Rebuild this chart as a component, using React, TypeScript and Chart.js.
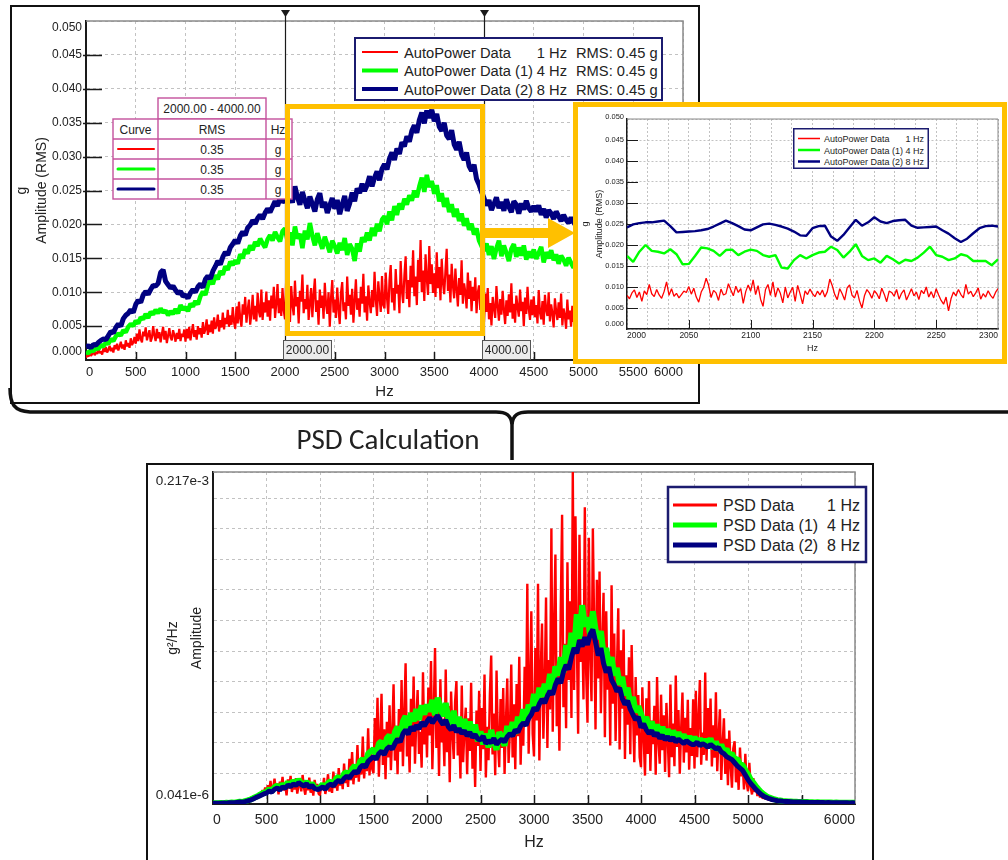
import React, { useEffect, useRef } from 'react';
import { Chart, registerables } from 'chart.js';

Chart.register(...registerables);

const FONT = '"Liberation Sans", Arial, Helvetica, sans-serif';
const RED = '#ff0000';
const GREEN = '#00ff00';
const NAVY = '#000080';
const ORANGE = '#ffc000';
const PINK = '#c4519c';
const LEGEND_BORDER = '#1b1b6f';
const GRID = '#c2c2c2';
const TEXT = '#222222';

// ---------------- AutoPower spectra (milli-g RMS) ----------------
// 1 Hz resolution curve, sampled every 12.5 Hz from 0 Hz
const AP_RED_STEP_HZ = 12.5;
const apRed = [
  0.3, 0.8, 0.5, 1.1, 0.6, 0.9, 1.4, 0.7, 1.2, 0.9, 1.6, 1.0, 1.3, 0.8, 1.7, 1.2, 1.9, 1.1, 1.5, 2.1,
  1.3, 1.8, 1.1, 2.2, 1.6, 2.4, 1.4, 2.0, 2.7, 1.7, 2.3, 1.5, 2.9, 2.0, 2.5, 1.8, 3.2, 2.2, 2.6, 3.4,
  2.4, 3.9, 2.8, 4.5, 3.1, 2.6, 4.2, 3.5, 4.8, 2.9, 3.7, 4.4, 2.7, 3.3, 5.0, 3.6, 2.8, 4.6, 3.2, 4.1,
  2.6, 3.8, 4.9, 3.0, 4.3, 2.5, 3.6, 4.7, 3.3, 2.9, 4.4, 3.7, 2.7, 4.0, 3.1, 4.6, 2.8, 3.9, 3.4, 4.5,
  2.7, 4.6, 3.2, 4.9, 2.9, 4.1, 5.3, 3.4, 4.4, 3.0, 5.0, 3.8, 4.7, 3.3, 5.6, 3.9, 4.5, 6.0, 3.7, 5.2,
  4.1, 5.8, 3.9, 6.3, 4.6, 5.1, 6.7, 4.2, 5.9, 4.8, 7.0, 4.5, 6.2, 5.3, 7.4, 4.9, 6.6, 5.2, 7.8, 5.6,
  4.6, 7.9, 5.4, 8.6, 6.1, 4.9, 8.2, 6.7, 9.3, 5.5, 7.4, 8.9, 5.2, 6.8, 9.6, 6.0, 8.0, 5.7, 9.9, 7.2,
  6.3, 10.4, 5.9, 8.5, 7.0, 10.1, 6.4, 8.8, 5.8, 9.5, 7.6, 10.8, 6.2, 8.3, 11.2, 6.9, 9.1, 6.5, 10.6, 7.3,
  6.0, 12.2, 7.4, 9.8, 5.6, 10.9, 8.1, 6.6, 11.7, 7.9, 9.3, 5.4, 10.2, 8.6, 12.6, 6.9, 9.0, 7.5, 11.1, 5.9,
  8.4, 10.6, 6.3, 9.7, 12.0, 7.1, 8.8, 5.2, 10.4, 7.7, 9.5, 6.1, 11.4, 8.2, 6.8, 10.0, 4.9, 9.2, 11.8, 7.0,
  8.9, 6.2, 10.7, 7.6, 5.3, 9.9, 11.5, 7.2, 8.5, 6.0, 12.3, 8.0, 9.6, 6.7, 10.5, 5.5, 8.7, 11.9, 7.4, 9.1,
  6.4, 10.8, 8.3, 12.7, 7.0, 9.4, 5.8, 11.0, 8.6, 6.9, 10.3, 7.8, 13.0, 8.9, 6.5, 11.6, 9.3, 7.1, 12.4, 8.1,
  7.6, 12.9, 9.2, 6.8, 11.7, 14.0, 8.5, 10.6, 7.3, 13.4, 9.8, 11.1, 6.9, 14.6, 10.2, 8.4, 12.5, 15.3, 9.0, 11.8,
  7.8, 13.9, 10.7, 16.2, 9.4, 12.3, 8.1, 14.8, 11.5, 17.7, 10.0, 13.2, 8.7, 15.6, 12.0, 9.6, 16.8, 11.2, 14.1, 9.9,
  12.8, 9.3, 15.9, 10.6, 13.7, 8.8, 14.9, 11.4, 9.7, 13.1, 16.4, 10.2, 12.6, 8.5, 14.2, 11.0, 9.1, 13.5, 10.4, 7.9,
  12.1, 9.6, 14.7, 8.3, 11.3, 10.0, 7.6, 12.9, 9.0, 11.7, 7.2, 10.8, 8.7, 12.2, 6.9, 9.9, 11.0, 7.4, 10.1, 8.0,
  5.6, 9.8, 7.1, 10.6, 6.0, 8.4, 5.1, 9.3, 7.7, 6.2, 10.9, 8.0, 5.8, 9.0, 6.7, 10.2, 7.4, 5.3, 8.8, 6.5,
  9.7, 7.0, 11.3, 6.1, 8.3, 5.5, 9.5, 7.8, 6.4, 10.4, 7.2, 8.6, 5.0, 9.2, 6.8, 10.8, 7.5, 5.9, 8.9, 6.6,
  9.4, 6.3, 8.1, 5.4, 10.3, 7.0, 6.0, 8.7, 5.2, 9.6, 7.4, 6.5, 10.0, 5.7, 8.2, 6.9, 4.8, 9.1, 7.2, 5.9,
  8.5, 6.2, 9.8, 5.1, 7.6, 6.6, 4.6, 8.9, 6.0, 7.3, 4.9, 8.0, 5.6, 6.8, 4.2, 7.5, 5.3, 3.8, 6.4, 3.5,
  3.3,
];
// 4 Hz and 8 Hz resolution curves, sampled every 25 Hz from 0 Hz
const AP_STEP_HZ = 25;
const apGreen = [
  1.2, 1.0, 1.5, 1.3, 1.9, 1.6, 2.2, 2.0, 2.6, 2.4, 3.1, 2.8, 3.5, 3.9, 3.6, 4.4, 4.1, 4.9, 5.3, 5.0,
  5.8, 5.4, 6.3, 6.0, 6.8, 6.2, 7.1, 6.7, 7.4, 6.9, 7.6, 7.0, 7.3, 6.6, 7.2, 6.8, 7.5, 6.9, 8.1, 7.4,
  7.8, 7.2, 8.3, 7.9, 8.7, 8.2, 9.4, 10.1, 9.6, 11.0, 11.8, 11.2, 12.5, 11.9, 13.1, 12.6, 13.8, 13.3, 14.5, 14.0,
  14.7, 14.2, 15.6, 15.0, 16.3, 15.7, 16.9, 16.2, 17.4, 16.8, 17.9, 17.2, 16.6, 17.8, 18.4, 17.6, 18.9, 18.1, 17.5, 19.0,
  19.4, 17.6, 18.8, 16.9, 19.7, 17.9, 18.6, 16.5, 19.1, 17.8, 20.2, 18.3, 16.9, 18.7, 17.5, 16.4, 18.2, 17.0, 15.9, 17.6,
  16.8, 15.7, 17.3, 16.2, 18.0, 15.5, 17.1, 16.4, 14.6, 17.2, 16.0, 18.1, 17.4, 18.8, 17.6, 19.5, 18.3, 20.1, 19.0, 20.7,
  21.2, 20.0, 21.9, 20.6, 22.7, 21.4, 23.1, 22.2, 23.8, 22.9, 24.3, 23.5, 25.0, 24.0, 25.6, 26.9, 24.8, 27.3, 25.5, 26.4,
  24.5, 25.8, 23.4, 24.6, 22.6, 23.9, 21.8, 23.0, 21.1, 22.3, 20.5, 21.6, 19.8, 20.9, 19.2, 20.1, 18.5, 19.4, 17.6, 16.8,
  16.1, 17.2, 15.5, 16.8, 14.9, 16.5, 17.6, 15.3, 16.9, 15.8, 14.6, 16.4, 17.1, 15.2, 16.6, 15.4, 16.9, 14.8, 16.0, 15.1,
  16.3, 14.9, 15.8, 16.7, 14.4, 15.9, 15.0, 16.2, 14.7, 15.6, 14.2, 15.4, 14.8, 13.9, 15.1, 14.3, 13.6, 14.5, 12.9, 12.0,
  11.8,
];
const apBlue = [
  1.9, 2.1, 1.8, 2.3, 2.2, 2.6, 2.9, 3.1, 3.0, 3.6, 4.2, 4.0, 4.8, 5.3, 5.0, 6.1, 6.6, 6.9, 7.4, 7.0,
  8.2, 8.8, 8.5, 9.6, 10.1, 9.7, 10.4, 11.0, 10.9, 11.3, 12.9, 13.3, 11.6, 11.1, 10.6, 10.9, 10.3, 9.8, 10.1, 9.4,
  9.6, 9.1, 9.9, 10.4, 10.0, 10.8, 11.2, 10.7, 11.9, 12.4, 12.0, 13.1, 13.8, 14.6, 14.1, 15.2, 15.9, 15.5, 16.6, 17.1,
  17.7, 17.2, 18.3, 18.9, 18.4, 19.5, 19.9, 20.6, 20.1, 20.9, 21.4, 20.8, 21.7, 22.3, 21.8, 22.6, 23.4, 22.7, 23.9, 23.3,
  23.6, 25.1, 24.3, 23.2, 25.6, 24.0, 22.9, 24.8, 23.5, 22.4, 24.1, 23.0, 21.9, 23.7, 24.6, 22.5, 23.3, 21.7, 22.8, 23.9,
  22.3, 23.6, 21.5, 22.9, 24.2, 22.0, 23.1, 24.7, 23.4, 25.3, 24.6, 26.0, 24.9, 25.8, 27.1, 25.6, 26.9, 27.8, 26.5, 28.2,
  28.9, 28.1, 29.7, 30.6, 29.5, 31.2, 30.4, 32.1, 31.5, 33.0, 32.2, 33.8, 34.6, 33.5, 35.4, 36.5, 34.9, 36.8, 35.7, 36.9,
  35.2, 36.3, 34.4, 33.8, 35.0, 33.1, 32.6, 33.9, 31.8, 31.0, 32.2, 30.3, 29.5, 30.6, 28.6, 27.9, 28.8, 26.7, 25.9, 24.8,
  23.9, 22.8, 23.6, 22.1, 23.0, 24.0, 22.4, 23.3, 22.0, 23.7, 22.6, 21.8, 23.4, 22.9, 21.6, 23.1, 22.2, 23.5, 22.4, 21.9,
  22.7, 21.9, 22.8, 21.4, 22.3, 21.0, 22.1, 21.6, 20.8, 21.9, 21.2, 20.5, 21.4, 20.7, 20.2, 21.0, 20.3, 19.8, 20.5, 19.6,
  19.9,
];
const apYTicks = [0, 0.005, 0.01, 0.015, 0.02, 0.025, 0.03, 0.035, 0.04, 0.045, 0.05];
const apXRange = [0, 6000];
const apXInnerTicks = [500, 1000, 1500, 2000, 2500, 3000, 3500, 4000, 4500, 5000, 5500];

// Band cursors and the RMS values computed between them
const cursorHz = [2000, 4000];
const bandRms = [0.35, 0.35, 0.35];
const bandUnit = 'g';
const overallRms = [0.45, 0.45, 0.45];

// ---------------- Zoomed view 2000–2300 Hz (milli-g) ----------------
const ZOOM_START_HZ = 2000;
const ZOOM_END_HZ = 2300;
const ZOOM_RED_STEP_HZ = 2;
const ZOOM_LINE_STEP_HZ = 5;
const zoomRed = [
  8.0, 7.2, 8.6, 9.3, 7.5, 8.8, 6.6, 9.1, 8.2, 10.6, 8.4, 7.7, 9.4, 8.1, 7.3, 8.9, 11.2, 8.0, 9.6, 7.8, 8.5, 7.4, 8.2, 9.0, 8.7,
  10.1, 8.3, 9.7, 7.6, 6.4, 8.8, 9.9, 12.1, 10.4, 7.5, 9.2, 8.6, 6.8, 9.5, 8.1, 8.4, 10.8, 9.3, 7.9, 10.2, 8.7, 9.6, 6.1, 8.9, 10.5,
  9.0, 11.7, 8.2, 10.3, 7.1, 5.4, 9.4, 10.6, 8.0, 11.2, 7.6, 9.8, 8.5, 6.2, 10.0, 7.4, 8.8, 9.9, 6.6, 10.4, 8.3, 6.0, 9.1, 8.2, 9.5,
  8.4, 7.7, 9.0, 8.1, 9.3, 7.6, 8.9, 11.9, 10.3, 8.2, 7.0, 9.6, 8.4, 6.9, 9.8, 10.5, 8.0, 7.4, 9.2, 6.7, 5.0, 7.9, 9.4, 8.6, 7.3,
  9.1, 8.4, 7.2, 9.7, 8.3, 6.5, 9.0, 8.7, 7.8, 9.4, 7.1, 8.5, 9.3, 6.9, 8.2, 9.6, 7.9, 8.8, 7.0, 9.2, 8.4, 10.0, 7.6, 8.9, 7.4,
  9.6, 8.1, 6.8, 5.9, 7.6, 4.3, 7.2, 8.8, 7.9, 9.4, 8.2, 7.4, 10.6, 8.3, 9.0, 7.7, 8.6, 9.8, 7.1, 8.4, 7.6, 9.1, 8.0, 7.3, 8.7,
  9.6,
];
const zoomGreen = [
  17.4, 16.0, 18.4, 20.0, 18.6, 18.4, 18.0, 19.0, 17.8, 15.4,
  15.5, 17.4, 19.4, 19.2, 18.6, 17.4, 18.8, 18.9, 17.6, 18.4,
  18.9, 18.6, 17.6, 17.2, 17.6, 14.6, 14.4, 16.4, 17.6, 16.8,
  17.6, 18.2, 18.4, 19.6, 18.8, 17.0, 18.4, 20.2, 17.4, 16.4,
  16.8, 15.8, 17.4, 16.6, 15.6, 16.5, 16.2, 17.0, 18.2, 19.6,
  17.6, 17.2, 16.4, 16.8, 17.8, 17.4, 16.2, 16.2, 16.2, 15.2,
  16.6,
];
const zoomBlue = [
  24.2, 24.9, 25.2, 25.4, 25.4, 25.6, 25.8, 24.5, 23.0, 23.1,
  23.2, 23.3, 23.5, 23.8, 24.4, 25.1, 25.8, 25.2, 24.5, 23.7,
  23.5, 24.2, 24.9, 25.1, 24.8, 24.4, 23.9, 23.2, 22.3, 22.2,
  24.0, 24.5, 24.6, 22.0, 21.0, 22.4, 24.2, 26.0, 24.6, 25.4,
  26.6, 25.6, 25.2, 25.7, 25.9, 26.0, 24.6, 24.1, 24.2, 24.3,
  24.4, 23.5, 22.7, 21.6, 20.7, 21.5, 22.8, 24.0, 24.5, 24.6,
  24.4,
];
const zoomXLabelEvery = 50;
const zoomGridDivisions = 18;
const zoomXInnerTicks = [2050, 2100, 2150, 2200, 2250];

// ---------------- PSD spectra (1e-5 g²/Hz) ----------------
// 1 Hz resolution PSD, sampled every 12.5 Hz from 0 Hz
const PSD_RED_STEP_HZ = 12.5;
const psdRed = [
  0.04, 0.06, 0.05, 0.05, 0.07, 0.06, 0.05, 0.08, 0.06, 0.07, 0.09, 0.07, 0.08, 0.11, 0.09, 0.10, 0.13, 0.10, 0.12, 0.16,
  0.13, 0.18, 0.14, 0.22, 0.17, 0.28, 0.21, 0.36, 0.26, 0.44, 0.33, 0.52, 0.39, 0.63, 0.48, 0.77, 0.55, 0.92, 0.66, 1.08,
  0.62, 1.24, 0.85, 1.52, 0.71, 1.08, 1.66, 0.93, 1.35, 0.64, 1.47, 1.12, 1.78, 0.88, 1.29, 0.57, 1.61, 1.02, 1.84, 0.79,
  1.38, 0.95, 1.70, 0.68, 1.21, 1.55, 0.83, 1.90, 1.06, 0.61, 1.44, 0.90, 1.73, 0.74, 1.26, 0.55, 1.58, 0.97, 1.32, 0.66,
  0.58, 1.36, 0.92, 1.71, 0.66, 1.18, 1.95, 0.81, 1.49, 0.73, 2.12, 1.04, 1.63, 0.87, 2.35, 1.21, 1.82, 0.98, 2.64, 1.37,
  2.01, 1.12, 2.95, 1.55, 3.40, 1.29, 2.48, 1.72, 3.85, 1.46, 2.76, 1.93, 4.42, 1.68, 3.12, 2.15, 4.96, 1.87, 3.58, 2.30,
  2.02, 5.63, 3.15, 6.94, 1.78, 4.21, 7.20, 2.56, 4.88, 1.62, 5.37, 3.04, 6.45, 2.21, 4.56, 7.83, 2.84, 5.12, 1.95, 6.21,
  3.42, 8.10, 2.47, 5.78, 9.20, 3.11, 4.95, 2.06, 6.88, 3.76, 8.34, 2.63, 5.49, 7.45, 3.28, 4.73, 2.38, 8.62, 3.90, 6.05,
  3.05, 7.62, 4.48, 9.35, 2.27, 5.84, 10.20, 3.66, 6.93, 1.84, 8.15, 4.02, 5.57, 2.48, 8.80, 3.39, 6.41, 1.42, 7.36, 4.71,
  2.95, 6.68, 8.04, 3.18, 5.22, 1.67, 7.75, 2.74, 4.89, 6.30, 1.95, 5.60, 3.47, 7.92, 2.31, 4.55, 1.12, 6.12, 3.80, 7.41,
  2.16, 6.27, 3.58, 8.46, 1.73, 5.05, 2.86, 7.14, 9.70, 3.24, 5.91, 1.88, 8.73, 4.15, 2.41, 6.86, 3.67, 7.58, 1.96, 5.33,
  8.21, 2.69, 4.76, 9.12, 3.05, 6.52, 2.28, 7.85, 4.43, 9.63, 2.57, 6.04, 3.81, 8.97, 5.16, 14.40, 3.29, 7.70, 12.60, 4.58,
  3.12, 10.20, 5.46, 14.40, 2.85, 8.63, 11.80, 4.27, 7.54, 13.50, 3.66, 9.41, 6.18, 18.00, 4.72, 11.35, 16.30, 5.09, 8.92, 3.48,
  12.74, 18.90, 6.33, 10.48, 4.95, 15.80, 8.11, 13.26, 5.62, 21.70, 7.45, 18.80, 10.93, 4.60, 17.60, 9.28, 12.05, 6.84, 19.40, 8.57,
  5.31, 17.40, 9.86, 6.72, 18.00, 11.53, 4.88, 14.65, 8.20, 15.20, 5.94, 10.37, 13.81, 4.36, 12.60, 7.48, 9.95, 3.82, 14.30, 6.55,
  11.14, 4.12, 8.76, 12.80, 3.57, 10.05, 6.23, 11.40, 2.95, 8.41, 5.18, 9.60, 3.26, 10.40, 6.07, 2.73, 8.30, 4.49, 7.12, 3.06,
  2.41, 7.63, 4.35, 1.86, 6.92, 3.28, 8.04, 2.17, 5.46, 3.91, 6.43, 1.92, 8.30, 4.07, 2.64, 7.15, 3.52, 5.80, 2.09, 6.61,
  4.24, 1.75, 7.81, 3.06, 5.27, 2.48, 8.40, 3.73, 6.14, 1.98, 4.86, 7.29, 2.71, 5.63, 3.37, 6.82, 2.25, 4.97, 3.14, 6.85,
  2.33, 7.40, 3.06, 5.52, 8.10, 2.57, 4.68, 3.21, 8.60, 2.84, 6.27, 3.95, 6.90, 2.46, 5.14, 3.03, 7.30, 2.15, 4.41, 6.20,
  1.58, 3.87, 5.60, 1.96, 4.26, 1.23, 4.80, 2.51, 1.07, 3.64, 4.10, 1.42, 2.88, 0.93, 3.70, 1.81, 2.62, 0.96, 3.28, 1.37,
  0.84, 2.70, 1.12, 0.63, 1.70, 0.78, 1.24, 0.52, 0.96, 0.43, 0.71, 0.35, 0.58, 0.30, 0.44, 0.26, 0.36, 0.23, 0.30, 0.20,
  0.26, 0.18, 0.23, 0.17, 0.20, 0.15, 0.18, 0.14, 0.17, 0.13, 0.16, 0.12, 0.15, 0.12, 0.14, 0.11, 0.13, 0.11, 0.12, 0.10,
  0.12, 0.10, 0.11, 0.13, 0.10, 0.11, 0.09, 0.12, 0.10, 0.09, 0.11, 0.10, 0.08, 0.10, 0.09, 0.11, 0.08, 0.09, 0.10, 0.08,
  0.09, 0.08, 0.10, 0.07, 0.09, 0.08, 0.07, 0.09, 0.08, 0.07, 0.08, 0.09, 0.07, 0.08, 0.07, 0.06, 0.08, 0.07, 0.06, 0.07,
  0.07,
];
// 4 Hz and 8 Hz resolution PSDs, sampled every 25 Hz from 0 Hz
const PSD_STEP_HZ = 25;
const psdGreen = [
  0.05, 0.06, 0.05, 0.07, 0.06, 0.08, 0.07, 0.10, 0.09, 0.12, 0.15, 0.13, 0.19, 0.24, 0.30, 0.38, 0.47, 0.55, 0.66, 0.74,
  0.80, 0.98, 0.83, 1.10, 1.22, 1.01, 1.30, 1.12, 1.45, 1.20, 1.52, 1.33, 1.60, 1.35, 1.24, 1.48, 1.15, 1.36, 1.08, 1.02,
  1.08, 1.30, 1.02, 1.38, 1.50, 1.25, 1.66, 1.80, 1.52, 1.98, 2.10, 1.85, 2.30, 2.52, 2.20, 2.80, 2.95, 2.65, 3.30, 3.45,
  3.60, 3.20, 3.95, 4.10, 3.55, 4.30, 4.50, 3.90, 4.70, 5.05, 4.40, 5.40, 5.75, 4.95, 5.95, 5.40, 6.20, 5.50, 6.45, 5.85,
  6.50, 6.05, 6.80, 5.80, 6.95, 6.30, 5.75, 6.60, 5.55, 5.20, 6.10, 5.00, 5.70, 4.80, 5.55, 4.60, 5.40, 4.35, 5.20, 4.10,
  4.75, 3.90, 4.60, 3.70, 4.85, 4.10, 3.55, 4.70, 4.40, 3.80, 5.10, 4.45, 5.35, 4.60, 5.70, 5.15, 6.20, 5.40, 6.50, 6.00,
  7.20, 6.30, 7.60, 7.00, 7.85, 7.30, 8.50, 7.50, 9.00, 8.40, 9.60, 8.60, 10.40, 9.40, 11.20, 10.10, 12.40, 10.80, 13.00, 11.60,
  12.20, 11.00, 12.60, 11.40, 10.80, 11.30, 9.80, 10.20, 9.00, 9.60, 8.40, 8.90, 7.80, 8.30, 7.10, 7.60, 6.50, 7.00, 6.00, 6.40,
  5.90, 5.30, 5.70, 4.90, 5.40, 4.70, 5.20, 4.50, 5.05, 4.40, 4.90, 4.25, 4.80, 4.30, 4.70, 4.20, 4.55, 4.05, 4.45, 3.95,
  4.40, 3.90, 4.30, 3.80, 4.25, 3.75, 4.30, 3.60, 4.10, 3.50, 3.90, 3.40, 3.60, 3.20, 3.30, 2.90, 2.95, 2.60, 2.55, 2.20,
  1.95, 1.60, 1.40, 1.15, 0.95, 0.76, 0.62, 0.50, 0.42, 0.36, 0.30, 0.26, 0.23, 0.20, 0.19, 0.17, 0.16, 0.15, 0.15, 0.14,
  0.14, 0.13, 0.13, 0.12, 0.12, 0.11, 0.12, 0.11, 0.10, 0.11, 0.10, 0.10, 0.09, 0.10, 0.09, 0.09, 0.08, 0.09, 0.08, 0.08,
  0.08,
];
const psdBlue = [
  0.05, 0.05, 0.06, 0.05, 0.07, 0.06, 0.08, 0.09, 0.08, 0.11, 0.13, 0.12, 0.16, 0.21, 0.26, 0.33, 0.42, 0.50, 0.58, 0.66,
  0.72, 0.85, 0.78, 0.96, 1.05, 0.92, 1.12, 1.03, 1.25, 1.14, 1.31, 1.22, 1.40, 1.28, 1.18, 1.33, 1.09, 1.21, 1.02, 0.95,
  1.00, 1.12, 0.96, 1.20, 1.30, 1.18, 1.42, 1.55, 1.41, 1.68, 1.82, 1.70, 1.96, 2.15, 2.02, 2.38, 2.55, 2.41, 2.79, 2.95,
  3.10, 2.92, 3.30, 3.45, 3.22, 3.60, 3.75, 3.58, 3.95, 4.25, 4.05, 4.60, 4.85, 4.55, 5.05, 4.80, 5.15, 4.90, 5.35, 5.10,
  5.40, 5.65, 5.30, 5.55, 5.80, 5.45, 5.20, 5.50, 5.05, 4.85, 5.15, 4.70, 4.95, 4.60, 4.80, 4.45, 4.70, 4.35, 4.55, 4.25,
  4.20, 4.45, 3.95, 4.15, 4.00, 4.30, 3.90, 4.10, 4.25, 4.05, 4.40, 4.60, 4.45, 4.85, 4.70, 5.10, 5.30, 5.15, 5.60, 5.85,
  6.30, 6.10, 6.55, 6.85, 6.60, 7.05, 7.40, 7.15, 7.80, 8.20, 7.90, 8.65, 9.10, 8.80, 9.60, 10.20, 9.85, 10.70, 10.30, 10.90,
  10.40, 11.10, 11.40, 10.60, 9.70, 10.20, 9.20, 8.60, 8.95, 8.10, 7.80, 7.35, 7.60, 6.90, 6.50, 6.75, 6.20, 5.85, 5.50, 5.70,
  5.00, 5.25, 4.85, 4.60, 4.80, 4.45, 4.65, 4.30, 4.50, 4.20, 4.40, 4.15, 4.35, 4.05, 4.25, 4.10, 3.95, 4.15, 4.00, 3.90,
  3.90, 4.05, 3.80, 3.95, 3.85, 3.70, 3.90, 3.75, 3.60, 3.70, 3.40, 3.30, 3.10, 3.00, 2.90, 2.70, 2.50, 2.35, 2.20, 1.90,
  1.60, 1.35, 1.15, 0.95, 0.78, 0.62, 0.50, 0.42, 0.35, 0.30, 0.26, 0.22, 0.20, 0.18, 0.17, 0.16, 0.15, 0.14, 0.14, 0.13,
  0.13, 0.12, 0.12, 0.11, 0.11, 0.10, 0.11, 0.10, 0.10, 0.09, 0.10, 0.09, 0.09, 0.08, 0.09, 0.08, 0.08, 0.08, 0.07, 0.08,
  0.07,
];
const psdYRange = [0.041e-6, 0.217e-3];
const psdYLabels = ['0.041e-6', '0.217e-3'];
const psdYGridStep = 2e-5;
const psdXRange = [0, 6000];
const psdXLabels = ['0', '500', '1000', '1500', '2000', '2500', '3000', '3500', '4000', '4500', '5000', '6000'];
const psdXInnerTicks = [500, 1000, 1500, 2000, 2500, 3000, 3500, 4000, 4500, 5000, 5500];

// ---------------- legend texts ----------------
const apNames = ['AutoPower Data', 'AutoPower Data (1)', 'AutoPower Data (2)'];
const psdNames = ['PSD Data', 'PSD Data (1)', 'PSD Data (2)'];
const resolutions = ['1 Hz', '4 Hz', '8 Hz'];
const seriesColors = [RED, GREEN, NAVY];

const MG = 1e-3;
const PSD_UNIT = 1e-5;

type Pt = { x: number; y: number };
const toPoints = (values: number[], startHz: number, stepHz: number, unit: number): Pt[] =>
  values.map((v, i) => ({ x: startHz + i * stepHz, y: v * unit }));

const lineDataset = (label: string, data: Pt[], color: string, width: number, order: number) => ({
  label,
  data,
  borderColor: color,
  backgroundColor: color,
  borderWidth: width,
  borderJoinStyle: 'bevel',
  pointRadius: 0,
  fill: false,
  tension: 0,
  order,
});

// fix the axis box so the plot area lands at a known place
const fixWidth = (w: number) => (s: any) => {
  s.width = w;
  s.paddingTop = 0; s.paddingBottom = 0; s.paddingLeft = 0; s.paddingRight = 0;
};
const fixHeight = (h: number) => (s: any) => {
  s.height = h;
  s.paddingTop = 0; s.paddingBottom = 0; s.paddingLeft = 0; s.paddingRight = 0;
};

// plot frame, inner tick marks, y labels and band cursors
const axisDecor = {
  id: 'axisDecor',
  beforeDatasetsDraw(chart: any, _args: any, o: any) {
    const { ctx, chartArea: a, scales } = chart;
    ctx.save();
    ctx.strokeStyle = o.frameColor;
    ctx.lineWidth = o.frameWidth;
    ctx.beginPath();
    ctx.moveTo(a.left, a.top);
    ctx.lineTo(a.right, a.top);
    ctx.lineTo(a.right, a.bottom);
    ctx.stroke();
    ctx.strokeStyle = o.tickColor;
    ctx.lineWidth = o.tickWidth;
    (o.xTicks || []).forEach((v: number) => {
      const px = Math.round(scales.x.getPixelForValue(v)) + 0.5;
      ctx.beginPath();
      ctx.moveTo(px, a.bottom);
      ctx.lineTo(px, a.bottom - o.xTickLength);
      ctx.stroke();
    });
    (o.yTicks || []).forEach((v: number) => {
      const py = Math.round(scales.y.getPixelForValue(v)) + 0.5;
      ctx.beginPath();
      ctx.moveTo(a.left - o.yTickOut, py);
      ctx.lineTo(a.left + o.yTickLength, py);
      ctx.stroke();
    });
    ctx.restore();
  },
  afterDraw(chart: any, _args: any, o: any) {
    const { ctx, chartArea: a, scales } = chart;
    ctx.save();
    ctx.font = `${o.yFontSize}px ${FONT}`;
    ctx.fillStyle = TEXT;
    ctx.textAlign = 'right';
    ctx.textBaseline = 'middle';
    const labels = o.yLabels || [];
    labels.forEach((lab: any, i: number) => {
      let py = scales.y.getPixelForValue(lab.value);
      if (i === 0) py -= o.edgeShift[0];
      if (i === labels.length - 1) py += o.edgeShift[1];
      ctx.fillText(lab.text, a.left - o.yLabelGap, py);
    });
    (o.cursors || []).forEach((hz: number) => {
      const px = Math.round(scales.x.getPixelForValue(hz)) + 0.5;
      ctx.strokeStyle = '#1a1a1a';
      ctx.lineWidth = 1.2;
      ctx.beginPath();
      ctx.moveTo(px, o.cursorTop);
      ctx.lineTo(px, o.cursorBoxTop);
      ctx.stroke();
      ctx.fillStyle = '#1a1a1a';
      ctx.beginPath();
      ctx.moveTo(px - 4.5, o.cursorTop);
      ctx.lineTo(px + 4.5, o.cursorTop);
      ctx.lineTo(px, o.cursorTop + 7);
      ctx.closePath();
      ctx.fill();
      const bx = px - 2.5;
      ctx.fillStyle = '#ececec';
      ctx.fillRect(bx, o.cursorBoxTop, 49, 20);
      ctx.strokeStyle = '#555';
      ctx.lineWidth = 1;
      ctx.strokeRect(bx + 0.5, o.cursorBoxTop + 0.5, 48, 19);
      ctx.fillStyle = TEXT;
      ctx.textAlign = 'center';
      ctx.font = `12px ${FONT}`;
      ctx.fillText(hz.toFixed(2), bx + 24.5, o.cursorBoxTop + 10.5);
    });
    ctx.restore();
  },
};

const baseOptions = {
  responsive: false,
  animation: false,
  devicePixelRatio: 1,
  events: [],
  normalized: true,
};

const plainNumber = (v: number) => String(v);

function buildApChart() {
  return {
    type: 'line',
    data: {
      datasets: [
        lineDataset(apNames[0], toPoints(apRed, 0, AP_RED_STEP_HZ, MG), RED, 2.2, 3),
        lineDataset(apNames[1], toPoints(apGreen, 0, AP_STEP_HZ, MG), GREEN, 4.5, 2),
        lineDataset(apNames[2], toPoints(apBlue, 0, AP_STEP_HZ, MG), NAVY, 5, 1),
      ],
    },
    options: {
      ...baseOptions,
      layout: { padding: { left: 0, right: 15, top: 14, bottom: 0 } },
      plugins: {
        legend: { display: false },
        tooltip: { enabled: false },
        axisDecor: {
          frameColor: '#8a8a8a', frameWidth: 1.5,
          tickColor: '#1a1a1a', tickWidth: 1.5,
          xTicks: apXInnerTicks, xTickLength: 8,
          yTicks: apYTicks.slice(1, -1), yTickLength: 16, yTickOut: 3,
          yFontSize: 12, yLabelGap: 4, edgeShift: [8, 7],
          yLabels: apYTicks.map((v) => ({ value: v, text: v.toFixed(3) })),
          cursors: cursorHz, cursorTop: 3, cursorBoxTop: 333,
        },
      },
      scales: {
        x: {
          type: 'linear', min: apXRange[0], max: apXRange[1],
          afterFit: fixHeight(42),
          ticks: { stepSize: 500, align: 'inner', autoSkip: false, maxRotation: 0, padding: 5, color: TEXT, font: { family: FONT, size: 13 }, callback: plainNumber },
          grid: { color: GRID, lineWidth: 1, drawTicks: false },
          border: { display: true, color: '#1a1a1a', width: 2, dash: [3, 3] },
          title: { display: true, text: 'Hz', color: TEXT, font: { family: FONT, size: 15, lineHeight: '18px' }, padding: { top: 0, bottom: 1 } },
        },
        y: {
          type: 'linear', min: apYTicks[0], max: apYTicks[apYTicks.length - 1],
          afterFit: fixWidth(74),
          ticks: { stepSize: 0.005, display: false },
          grid: { color: GRID, lineWidth: 1, drawTicks: false },
          border: { display: true, color: '#1a1a1a', width: 2, dash: [3, 3] },
          title: { display: true, text: ['g', 'Amplitude (RMS)'], color: TEXT, font: { family: FONT, size: 14, lineHeight: '20px' }, padding: { top: 0, bottom: 0 } },
        },
      },
    },
    plugins: [axisDecor],
  };
}

function buildZoomChart() {
  const gridHz = Array.from({ length: zoomGridDivisions + 1 }, (_, i) => ZOOM_START_HZ + (i * (ZOOM_END_HZ - ZOOM_START_HZ)) / zoomGridDivisions);
  return {
    type: 'line',
    data: {
      datasets: [
        lineDataset(apNames[0], toPoints(zoomRed, ZOOM_START_HZ, ZOOM_RED_STEP_HZ, MG), RED, 1.3, 3),
        lineDataset(apNames[1], toPoints(zoomGreen, ZOOM_START_HZ, ZOOM_LINE_STEP_HZ, MG), GREEN, 2.4, 2),
        lineDataset(apNames[2], toPoints(zoomBlue, ZOOM_START_HZ, ZOOM_LINE_STEP_HZ, MG), NAVY, 2.4, 1),
      ],
    },
    options: {
      ...baseOptions,
      layout: { padding: { left: 0, right: 4, top: 12, bottom: 0 } },
      plugins: {
        legend: { display: false },
        tooltip: { enabled: false },
        axisDecor: {
          frameColor: '#8a8a8a', frameWidth: 1,
          tickColor: '#1a1a1a', tickWidth: 1,
          xTicks: zoomXInnerTicks, xTickLength: 9,
          yTicks: apYTicks.slice(1, -1), yTickLength: 11, yTickOut: 1,
          yFontSize: 7.5, yLabelGap: 3, edgeShift: [5, -2],
          yLabels: apYTicks.map((v) => ({ value: v, text: v.toFixed(3) })),
        },
      },
      scales: {
        x: {
          type: 'linear', min: ZOOM_START_HZ, max: ZOOM_END_HZ,
          afterFit: fixHeight(30),
          afterBuildTicks: (s: any) => { s.ticks = gridHz.map((v) => ({ value: v })); },
          ticks: {
            align: 'inner', autoSkip: false, maxRotation: 0, padding: 2, color: TEXT, font: { family: FONT, size: 8.5 },
            callback: (v: number) => {
              const r = Math.round(v);
              return Math.abs(v - r) < 1e-6 && r % zoomXLabelEvery === 0 ? String(r) : '';
            },
          },
          grid: { color: GRID, lineWidth: 1, drawTicks: false },
          border: { display: true, color: '#1a1a1a', width: 1.5, dash: [2, 2] },
          title: { display: true, text: 'Hz', color: TEXT, font: { family: FONT, size: 9, lineHeight: '12px' }, padding: { top: 0, bottom: 4 } },
        },
        y: {
          type: 'linear', min: apYTicks[0], max: apYTicks[apYTicks.length - 1],
          afterFit: fixWidth(49),
          ticks: { stepSize: 0.005, display: false },
          grid: { color: GRID, lineWidth: 1, drawTicks: false },
          border: { display: true, color: '#1a1a1a', width: 1.5, dash: [2, 2] },
          title: { display: true, text: ['g', 'Amplitude (RMS)'], color: TEXT, font: { family: FONT, size: 9, lineHeight: '14.5px' }, padding: { top: 0, bottom: 0 } },
        },
      },
    },
    plugins: [axisDecor],
  };
}

function buildPsdChart() {
  return {
    type: 'line',
    data: {
      datasets: [
        lineDataset(psdNames[0], toPoints(psdRed, 0, PSD_RED_STEP_HZ, PSD_UNIT), RED, 2.4, 3),
        lineDataset(psdNames[1], toPoints(psdGreen, 0, PSD_STEP_HZ, PSD_UNIT), GREEN, 6, 2),
        lineDataset(psdNames[2], toPoints(psdBlue, 0, PSD_STEP_HZ, PSD_UNIT), NAVY, 5, 1),
      ],
    },
    options: {
      ...baseOptions,
      layout: { padding: { left: 0, right: 17, top: 7, bottom: 0 } },
      plugins: {
        legend: { display: false },
        tooltip: { enabled: false },
        axisDecor: {
          frameColor: '#8a8a8a', frameWidth: 1.5,
          tickColor: '#1a1a1a', tickWidth: 1.5,
          xTicks: psdXInnerTicks, xTickLength: 9,
          yTicks: [],
          yFontSize: 13.5, yLabelGap: 4, edgeShift: [9, 9],
          yLabels: psdYRange.map((v, i) => ({ value: v, text: psdYLabels[i] })),
        },
      },
      scales: {
        x: {
          type: 'linear', min: psdXRange[0], max: psdXRange[1],
          afterFit: fixHeight(56),
          ticks: {
            stepSize: 500, align: 'inner', autoSkip: false, maxRotation: 0, padding: 7.6, color: TEXT, font: { family: FONT, size: 14 },
            callback: (v: number) => (psdXLabels.includes(String(v)) ? String(v) : ''),
          },
          grid: { color: GRID, lineWidth: 1, drawTicks: false },
          border: { display: true, color: '#1a1a1a', width: 2, dash: [3, 3] },
          title: { display: true, text: 'Hz', color: TEXT, font: { family: FONT, size: 16, lineHeight: '19px' }, padding: { top: 0, bottom: 7.5 } },
        },
        y: {
          type: 'linear', min: psdYRange[0], max: psdYRange[1],
          afterFit: fixWidth(65),
          ticks: { stepSize: psdYGridStep, display: false },
          grid: { color: GRID, lineWidth: 1, drawTicks: false },
          border: { display: true, color: '#1a1a1a', width: 2, dash: [3, 3] },
          title: { display: true, text: ['g²/Hz', 'Amplitude'], color: TEXT, font: { family: FONT, size: 14, lineHeight: '24px' }, padding: { top: 13, bottom: 0 } },
        },
      },
    },
    plugins: [axisDecor],
  };
}

function ChartCanvas({ left, top, width, height, build }: { left: number; top: number; width: number; height: number; build: () => any }) {
  const ref = useRef<HTMLCanvasElement | null>(null);
  useEffect(() => {
    if (!ref.current) return;
    const chart = new Chart(ref.current, build());
    return () => chart.destroy();
  }, [build]);
  return <canvas ref={ref} width={width} height={height} style={{ position: 'absolute', left, top, width, height, display: 'block' }} />;
}

const layer: React.CSSProperties = { position: 'absolute', left: 0, top: 0, width: 1008, height: 860, pointerEvents: 'none' };

function BandTable() {
  const cols = [113, 158, 266, 292];
  const rows = [119, 139, 159, 179, 199];
  const widths = [2, 3, 3];
  const t = { fontFamily: FONT, fontSize: 12, fill: TEXT } as any;
  return (
    <g>
      <rect x={158} y={98} width={108} height={21} fill="#fff" stroke={PINK} strokeWidth={1.4} />
      <text x={212} y={109} textAnchor="middle" dominantBaseline="central" style={t}>
        {`${cursorHz[0].toFixed(2)} - ${cursorHz[1].toFixed(2)}`}
      </text>
      <rect x={cols[0]} y={rows[0]} width={cols[3] - cols[0]} height={rows[4] - rows[0]} fill="#fff" stroke={PINK} strokeWidth={1.4} />
      {rows.slice(1, -1).map((y) => (
        <line key={y} x1={cols[0]} x2={cols[3]} y1={y} y2={y} stroke={PINK} strokeWidth={1.4} />
      ))}
      {cols.slice(1, -1).map((x) => (
        <line key={x} x1={x} x2={x} y1={rows[0]} y2={rows[4]} stroke={PINK} strokeWidth={1.4} />
      ))}
      <text x={135.5} y={129.5} textAnchor="middle" dominantBaseline="central" style={t}>Curve</text>
      <text x={212} y={129.5} textAnchor="middle" dominantBaseline="central" style={t}>RMS</text>
      <text x={278} y={129.5} textAnchor="middle" dominantBaseline="central" style={t}>Hz</text>
      {bandRms.map((v, i) => (
        <g key={i}>
          <line x1={118} x2={154} y1={149 + i * 20} y2={149 + i * 20} stroke={seriesColors[i]} strokeWidth={widths[i]} strokeLinecap="round" />
          <text x={212} y={149.5 + i * 20} textAnchor="middle" dominantBaseline="central" style={t}>{v.toFixed(2)}</text>
          <text x={278} y={149.5 + i * 20} textAnchor="middle" dominantBaseline="central" style={t}>{bandUnit}</text>
        </g>
      ))}
    </g>
  );
}

function Legend({ x, y, w, h, border, rowY, lineX, lineW, nameX, hzRight, extra, extraX, fontSize, names }: any) {
  const t = { fontFamily: FONT, fontSize, fill: TEXT } as any;
  return (
    <g>
      <rect x={x} y={y} width={w} height={h} fill="#fff" stroke={LEGEND_BORDER} strokeWidth={border} />
      {names.map((n: string, i: number) => (
        <g key={n}>
          <line x1={lineX[0]} x2={lineX[1]} y1={rowY[i]} y2={rowY[i]} stroke={seriesColors[i]} strokeWidth={lineW[i]} />
          <text x={nameX} y={rowY[i] + 0.5} dominantBaseline="central" style={t}>{n}</text>
          <text x={hzRight} y={rowY[i] + 0.5} textAnchor="end" dominantBaseline="central" style={t}>{resolutions[i]}</text>
          {extra && (
            <text x={extraX} y={rowY[i] + 0.5} dominantBaseline="central" style={t}>{extra[i]}</text>
          )}
        </g>
      ))}
    </g>
  );
}

export default function App() {
  return (
    <div style={{ position: 'absolute', left: 0, top: 0, width: 1008, height: 860, overflow: 'hidden', background: '#fff' }}>
      {/* AutoPower chart */}
      <div style={{ position: 'absolute', left: 10, top: 5, width: 690, height: 399, border: '2px solid #111', boxSizing: 'border-box' }} />
      <ChartCanvas left={12} top={7} width={686} height={395} build={buildApChart} />
      <svg style={layer} width={1008} height={860}>
        <BandTable />
        <Legend
          x={355} y={38} w={307} h={62} border={2}
          rowY={[52, 70.5, 89]} lineX={[362, 398]} lineW={[2, 4, 4]}
          nameX={404} hzRight={567} extra={overallRms.map((v) => `RMS: ${v.toFixed(2)} g`)} extraX={576}
          fontSize={14.7} names={apNames}
        />
        <rect x={287.5} y={106.5} width={195} height={227} fill="none" stroke={ORANGE} strokeWidth={5} />
        <polygon points="483,228 548,228 548,218 575,233 548,248 548,238 483,238" fill={ORANGE} />
      </svg>

      {/* zoomed view */}
      <div style={{ position: 'absolute', left: 573, top: 102, width: 434, height: 262, border: `5px solid ${ORANGE}`, boxSizing: 'border-box', background: '#fff' }} />
      <ChartCanvas left={578} top={107} width={424} height={252} build={buildZoomChart} />
      <svg style={layer} width={1008} height={860}>
        <Legend
          x={793.75} y={128.75} w={134.5} h={39.5} border={1.5}
          rowY={[138.5, 150, 161.5]} lineX={[798, 820]} lineW={[1.5, 2.5, 2.5]}
          nameX={824} hzRight={924} fontSize={9} names={apNames}
        />
      </svg>

      {/* brace and caption */}
      <svg style={layer} width={1008} height={860}>
        <path d="M 10 388 C 10 404, 14 411, 30 412 L 496 412 C 506 412, 511 415, 512 424 C 513 415, 518 412, 528 412 L 1010 412" fill="none" stroke="#111" strokeWidth={3.5} />
        <line x1={512} y1={420} x2={512} y2={460} stroke="#111" strokeWidth={3.5} />
        <text x={388} y={439} textAnchor="middle" dominantBaseline="central" style={{ fontFamily: 'Carlito, Lato, "Open Sans", sans-serif', fontSize: 29, fill: '#222' }}>
          PSD Calculation
        </text>
      </svg>

      {/* PSD chart */}
      <div style={{ position: 'absolute', left: 146, top: 463, width: 728, height: 402, border: '2px solid #111', boxSizing: 'border-box' }} />
      <ChartCanvas left={148} top={465} width={724} height={395} build={buildPsdChart} />
      <svg style={layer} width={1008} height={860}>
        <Legend
          x={668} y={487} w={198} h={75} border={2.5}
          rowY={[505, 525, 545]} lineX={[673, 717]} lineW={[3, 5, 5]}
          nameX={723} hzRight={860} fontSize={16} names={psdNames}
        />
      </svg>
    </div>
  );
}
